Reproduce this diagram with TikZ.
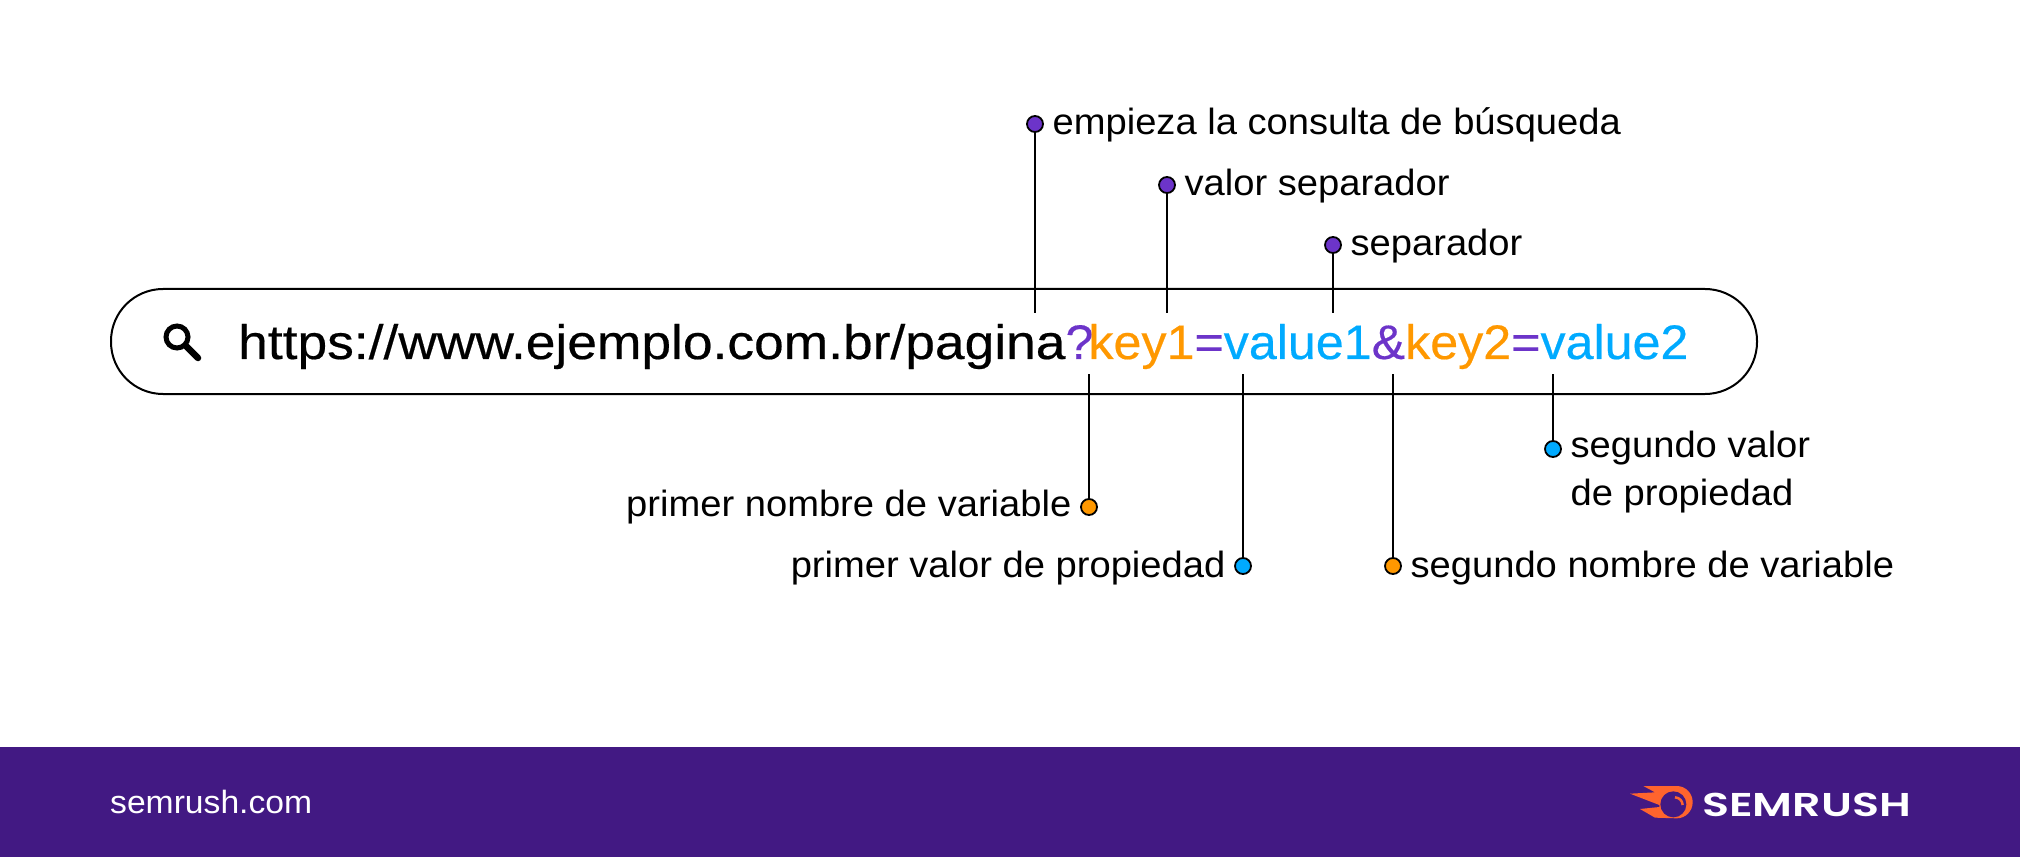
\documentclass[tikz,border=0pt]{standalone}
\usepackage{fontspec}
\usepackage{xcolor}
\usetikzlibrary{positioning}
\setmainfont[FakeStretch=1.045]{Liberation Sans}
\newfontfamily\urlfont[FakeStretch=1.10,FakeBold=0.4]{Liberation Sans}
\newfontfamily\urlpartfont[FakeStretch=1.035,FakeBold=0.4]{Liberation Sans}
\newfontfamily\logofont[FakeStretch=1.345]{Poppins SemiBold}
\definecolor{bandpurple}{HTML}{421983}
\definecolor{sepviolet}{HTML}{6C34C9}
\definecolor{keyorange}{HTML}{FF9800}
\definecolor{valblue}{HTML}{00AAFF}
\definecolor{flame}{HTML}{FF642D}
\tikzstyle{dotmark} = [circle, draw=black, line width=1.8pt, minimum size=16pt, inner sep=0pt]
\tikzstyle{note} = [inner sep=0pt, text height=28pt, text depth=6pt, font=\fontsize{36.5}{48}\selectfont]
\tikzstyle{lead} = [line width=2pt]
\begin{document}
\begin{tikzpicture}[x=1pt, y=-1pt]
    \useasboundingbox (0,0) rectangle (2020,858);
    % search bar
    \node (pill) [rectangle, rounded corners=52pt, draw=black, line width=2pt, minimum width=1646pt, minimum height=105pt] at (934,341.5) {};
    \node (lens) [circle, draw=black, line width=5pt, minimum size=22pt, inner sep=0pt] at (177,337) {};
    \coordinate (grip) at (198,358);
    \draw[line width=6.5pt, line cap=round] (lens.south east) -- (grip);
    \node (url) [anchor=base west, inner sep=0pt, font=\urlfont\fontsize{48.5}{50}\selectfont] at (238,359) {https://www.ejemplo.com.br/pagina{\urlpartfont{\color{sepviolet}?}\kern-5pt{\color{keyorange}key1}{\color{sepviolet}=}{\color{valblue}value1}{\color{sepviolet}\&}{\color{keyorange}key2}{\color{sepviolet}=}{\color{valblue}value2}}};
    % labels above the bar
    \node (dot1) [dotmark, fill=sepviolet] at (1035,124) {};
    \node (dot2) [dotmark, fill=sepviolet] at (1167,185) {};
    \node (dot3) [dotmark, fill=sepviolet] at (1333,245) {};
    \node (lab1) [note, right=8.5pt of dot1] {empieza la consulta de búsqueda};
    \node (lab2) [note, right=8.5pt of dot2] {valor separador};
    \node (lab3) [note, right=8.5pt of dot3] {separador};
    \coordinate (end1) at (1035,313);
    \coordinate (end2) at (1167,313);
    \coordinate (end3) at (1333,313);
    \draw[lead] (dot1) -- (end1);
    \draw[lead] (dot2) -- (end2);
    \draw[lead] (dot3) -- (end3);
    % labels below the bar
    \node (dot4) [dotmark, fill=keyorange] at (1089,507) {};
    \node (dot5) [dotmark, fill=valblue] at (1243,566) {};
    \node (dot6) [dotmark, fill=keyorange] at (1393,566) {};
    \node (dot7) [dotmark, fill=valblue] at (1553,449) {};
    \node (lab4) [note, left=8.5pt of dot4, yshift=1.5pt] {primer nombre de variable};
    \node (lab5) [note, left=8.5pt of dot5] {primer valor de propiedad};
    \node (lab6) [note, right=8.5pt of dot6] {segundo nombre de variable};
    \node (lab7) [inner sep=0pt, align=left, font=\fontsize{36.5}{48}\selectfont, right=8.5pt of dot7, yshift=-23pt] {segundo valor\\de propiedad};
    \coordinate (end4) at (1089,374);
    \coordinate (end5) at (1243,374);
    \coordinate (end6) at (1393,374);
    \coordinate (end7) at (1553,374);
    \draw[lead] (dot4) -- (end4);
    \draw[lead] (dot5) -- (end5);
    \draw[lead] (dot6) -- (end6);
    \draw[lead] (dot7) -- (end7);
    % footer
    \fill[bandpurple] (0,747) rectangle (2020,857);
    \node (site) [anchor=base west, inner sep=0pt, text=white, font=\fontsize{32.2}{36}\selectfont] at (110,813) {semrush.com};
    \begin{scope}[shift={(1620,775)}, scale=1/3]
        \fill[flame] (70,33) -- (170,33) .. controls (197,33) and (218,55) .. (218,81.5) .. controls (218,108) and (197,130) .. (170,130) -- (105,128) -- (60,102) -- (118,96) -- (118,90) -- (30,56) -- (105,52) -- cycle;
        \node (eye) [circle, fill=bandpurple, minimum size=26pt, inner sep=0pt] at (160,88) {};
        \draw[flame, line width=2.5pt] (165,67) .. controls (178,68) and (187,77) .. (188,90);
    \end{scope}
    \node (brand) [anchor=base west, inner sep=0pt, text=white, font=\logofont\fontsize{33}{36}\selectfont] at (1702,816) {SEMRUSH};
\end{tikzpicture}
\end{document}
